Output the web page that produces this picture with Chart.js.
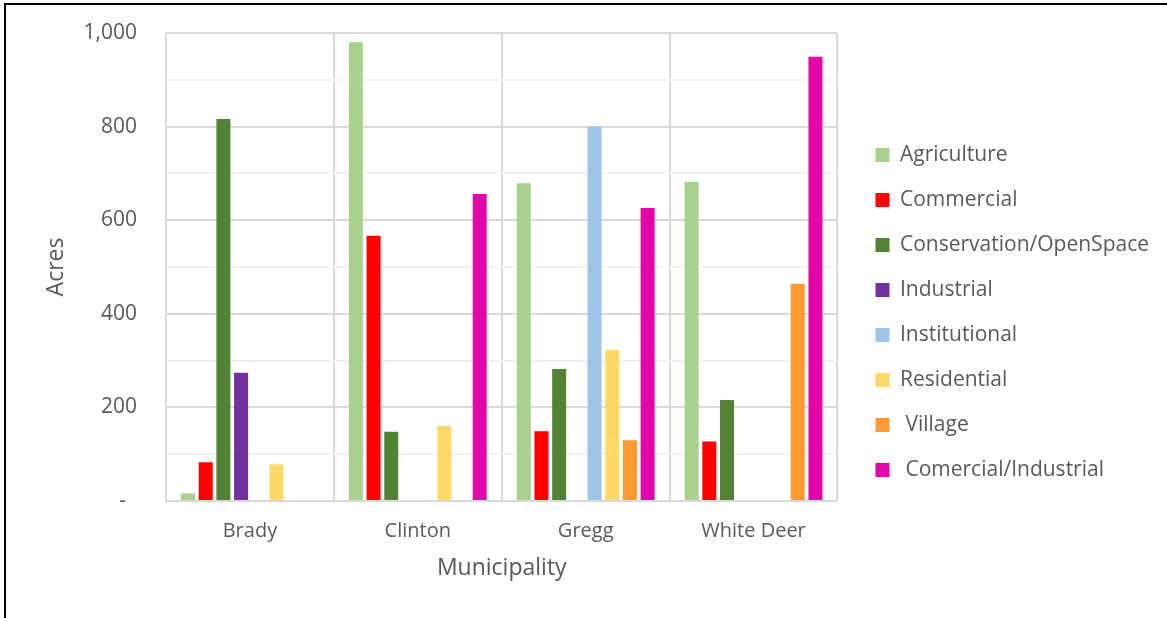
<!DOCTYPE html>
<html>
<head>
<meta charset="utf-8">
<script src="https://cdn.jsdelivr.net/npm/chart.js@4"></script>
<style>
  html, body { margin: 0; padding: 0; background: #fff; }
  #wrap { position: relative; width: 1167px; height: 618px; overflow: hidden; }
  #frame { position: absolute; left: 4px; top: 3px; width: 1200px; height: 700px;
           border-top: 2px solid #000; border-left: 2px solid #000; }
  canvas { position: absolute; left: 0; top: 0; }
</style>
</head>
<body>
<div id="wrap">
  <div id="frame"></div>
  <canvas id="myChart" width="1167" height="618"></canvas>
</div>
<script>
var municipalities = ['Brady', 'Clinton', 'Gregg', 'White Deer'];

var agriculture   = [16, 980, 679, 682];
var commercial    = [83, 567, 149, 127];
var conservation  = [816, 148, 282, 216];
var industrial    = [274, null, null, null];
var institutional = [null, null, 800, null];
var residential   = [78, 160, 323, null];
var village       = [null, null, 130, 464];
var comInd        = [null, 656, 626, 949];

var seriesNames = ['Agriculture', 'Commercial', 'Conservation/OpenSpace', 'Industrial',
                   'Institutional', 'Residential', ' Village', ' Comercial/Industrial'];
var seriesColors = ['#A9D18E', '#FF0000', '#548235', '#7030A0',
                    '#9DC3E6', '#FFD966', '#FF9933', '#E205A8'];
var seriesValues = [agriculture, commercial, conservation, industrial,
                    institutional, residential, village, comInd];

var textColor = '#595959';
var fontFamily = '"Open Sans", "Noto Sans", sans-serif';

var datasets = seriesNames.map(function(name, i) {
    return {
        label: name,
        data: seriesValues[i],
        backgroundColor: seriesColors[i],
        borderWidth: 0,
        categoryPercentage: 0.843,
        barPercentage: 0.79
    };
});

var ctx = document.getElementById('myChart').getContext('2d');

new Chart(ctx, {
    type: 'bar',
    data: {
        labels: municipalities,
        datasets: datasets
    },
    options: {
        responsive: false,
        animation: false,
        layout: {
            padding: { left: 6, top: 33, right: 8, bottom: 36 }
        },
        plugins: {
            legend: {
                position: 'right',
                align: 'center',
                maxWidth: 330,
                // empty title only nudges the entries down a little
                title: {
                    display: true,
                    text: ' ',
                    padding: { top: 2, bottom: 2 },
                    font: { size: 5 }
                },
                labels: {
                    boxWidth: 14,
                    boxHeight: 14,
                    padding: 24,
                    color: textColor,
                    font: { family: fontFamily, size: 21 }
                }
            },
            tooltip: { enabled: false }
        },
        scales: {
            x: {
                grid: {
                    offset: true,
                    color: '#D9D9D9',
                    lineWidth: 2,
                    drawTicks: false
                },
                border: { color: '#D9D9D9', width: 2 },
                ticks: {
                    padding: 18,
                    maxRotation: 0,
                    color: textColor,
                    font: { family: fontFamily, size: 20 }
                },
                title: {
                    display: true,
                    text: 'Municipality',
                    color: textColor,
                    padding: { top: 15, bottom: 0 },
                    font: { family: fontFamily, size: 23 }
                },
                afterFit: function(scale) { scale.height = 81; }
            },
            y: {
                min: 0,
                max: 1000,
                grid: {
                    drawTicks: false,
                    color: function(c) {
                        return c.tick && c.tick.value % 200 === 0 ? '#D9D9D9' : '#F2F2F2';
                    },
                    lineWidth: 2
                },
                border: { color: '#D9D9D9', width: 2 },
                ticks: {
                    stepSize: 100,
                    padding: 29,
                    color: textColor,
                    // small lineHeight keeps the tick padding from pushing the plot down
                    font: { family: fontFamily, size: 21, lineHeight: 0.3 },
                    callback: function(value) {
                        if (value % 200 !== 0) return '';
                        if (value === 0) return '-  ';
                        return value.toLocaleString('en-US');
                    }
                },
                title: {
                    display: true,
                    text: 'Acres',
                    color: textColor,
                    padding: { top: 37, bottom: 0 },
                    font: { family: fontFamily, size: 23 }
                },
                afterFit: function(scale) { scale.width = 160; }
            },
            gap: {
                type: 'linear',
                position: 'right',
                grid: { display: false },
                border: { display: false },
                ticks: { display: false },
                afterFit: function(scale) { scale.width = 14; }
            }
        }
    }
});
</script>
</body>
</html>
